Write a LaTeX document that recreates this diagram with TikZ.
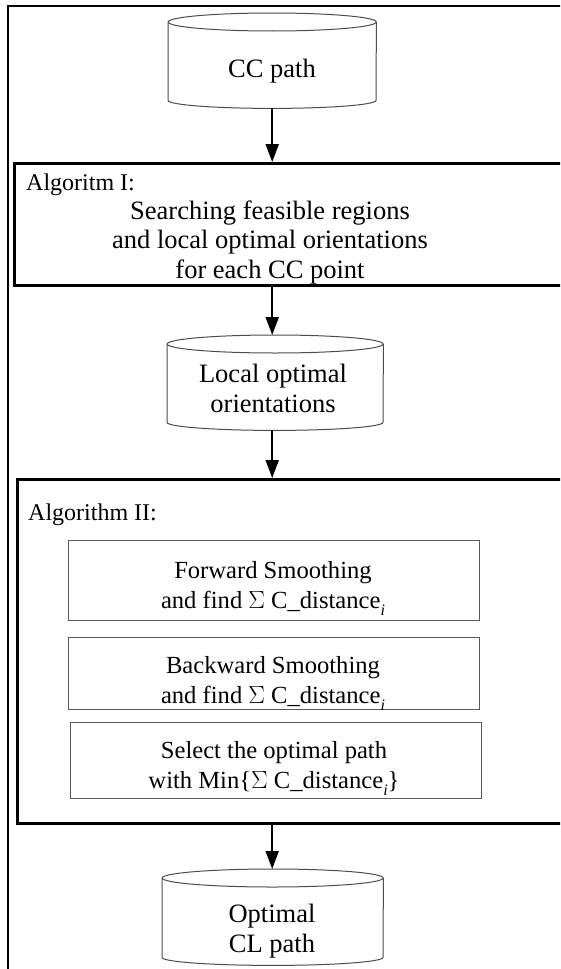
\documentclass[tikz,border=0pt]{standalone}
\usepackage{fontspec}
\setmainfont{Liberation Serif}
\usetikzlibrary{arrows.meta}
\newcommand\subi{\raisebox{-0.3em}{\fontsize{16}{16}\selectfont\itshape i}}
\newcommand\drawcyl[2]{%
  \draw[cylline] ([yshift=-9pt]#1.north west) -- ([yshift=8pt]#1.south west)
    arc[start angle=180,end angle=360,x radius=#2pt,y radius=8pt]
    -- ([yshift=-9pt]#1.north east);
  \draw[cylline] ([yshift=-9pt]#1.north) ellipse[x radius=#2pt,y radius=9pt];}
\begin{document}
\begin{tikzpicture}[x=1pt,y=-1pt,
  txt/.style={font=\fontsize{26.5}{29.3}\selectfont, align=center, inner sep=0pt},
  midtxt/.style={font=\fontsize{24.6}{30}\selectfont, align=center, inner sep=0pt},
  lbl/.style={font=\fontsize{24}{29}\selectfont, inner sep=0pt},
  cylbody/.style={inner sep=0pt, anchor=north west},
  cylline/.style={draw=black!70, line width=1pt},
  bigbox/.style={draw, line width=3pt, inner sep=0pt, anchor=north west},
  smallbox/.style={draw=black!65, line width=1pt, inner sep=0pt, anchor=north west},
  arr/.style={line width=2pt, -{Triangle[length=18pt,width=13pt]}},
  frame/.style={line width=1.5pt}]
\useasboundingbox (0,0) rectangle (560,969);
\clip (0,0) rectangle (560,969);
\fill[white] (0,0) rectangle (560,969);
\draw[frame] (8,6) rectangle (620,1020);

% cylinders
\node[cylbody, minimum width=208pt, minimum height=95pt] (c1) at (168,13) {};
\drawcyl{c1}{104}
\node[txt, anchor=base] (c1t) at (272,77) {CC path};

\node[cylbody, minimum width=216pt, minimum height=95pt] (c2) at (167,335) {};
\drawcyl{c2}{108}
\node[txt, anchor=base] (c2t) at (273,412) {Local optimal\\orientations};

\node[cylbody, minimum width=221pt, minimum height=96pt] (c3) at (162,869) {};
\drawcyl{c3}{110.5}
\node[txt, anchor=base] (c3t) at (272,952) {Optimal\\CL path};

% Algorithm I
\node[bigbox, minimum width=567pt, minimum height=122pt] (b1) at (13,162) {};
\node[lbl, anchor=base west] (b1l) at (26,190) {Algoritm I:};
\node[txt, anchor=base] (b1t) at (270,278) {Searching feasible regions\\and local optimal orientations\\for each CC point};

% Algorithm II
\node[bigbox, minimum width=564pt, minimum height=344pt] (b2) at (16,478) {};
\node[lbl, anchor=base west] (b2l) at (28,520) {Algorithm II:};
\node[smallbox, minimum width=411pt, minimum height=80pt] (s1) at (68,540) {};
\node[midtxt, anchor=base] (s1t) at (273,608) {Forward Smoothing\\and find \(\Sigma\) C\_distance\subi};
\node[smallbox, minimum width=411pt, minimum height=72pt] (s2) at (68,637) {};
\node[midtxt, anchor=base] (s2t) at (273,703) {Backward Smoothing\\and find \(\Sigma\) C\_distance\subi};
\node[smallbox, minimum width=411pt, minimum height=76pt] (s3) at (70,722) {};
\node[midtxt, anchor=base] (s3t) at (274,788) {Select the optimal path\\with Min\{\(\Sigma\) C\_distance\subi\}};

% arrows
\draw[arr] (c1.south) -- (c1.south |- b1.north);
\draw[arr] (c1.south |- b1.south) -- (c1.south |- c2.north);
\draw[arr] (c1.south |- c2.south) -- (c1.south |- b2.north);
\draw[arr] (c1.south |- b2.south) -- (c1.south |- c3.north);
\end{tikzpicture}
\end{document}
